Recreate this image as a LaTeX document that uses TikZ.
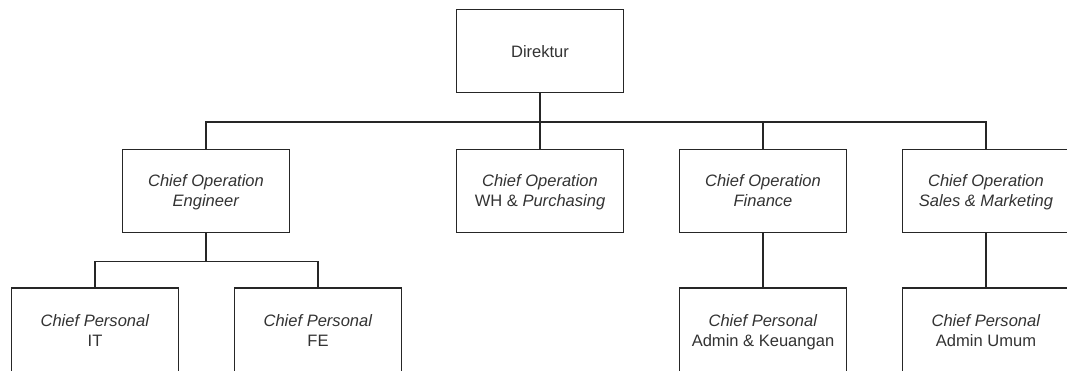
\documentclass[tikz,border=0pt]{standalone}
\usepackage{fontspec}
\setmainfont{Liberation Sans}

\begin{document}
\begin{tikzpicture}[x=0.75pt,y=0.75pt,
        jabatan/.style={draw=black!85, fill=white, line width=0.8pt, inner sep=0pt,
            minimum width=125.25pt, minimum height=62.25pt, align=center,
            text depth=1pt, text=black!80, font=\fontsize{12.4}{15}\selectfont},
        staf/.style={jabatan, minimum height=64.5pt},
        garis/.style={draw=black!85, line width=0.8pt}]
            \path[use as bounding box, clip] (0,0) rectangle (1067,-371);

            % Direktur:
            \node[jabatan, text depth=0pt] (dir) at (540,-51.25) {Direktur};

            % Chief Operation:
            \node[jabatan] (eng)   at (206,-191)   {\textit{Chief Operation}\\\textit{Engineer}};
            \node[jabatan] (wh)    at (540,-191)   {\textit{Chief Operation}\\WH \& \textit{Purchasing}};
            \node[jabatan] (fin)   at (763,-191)   {\textit{Chief Operation}\\\textit{Finance}};
            \node[jabatan] (sales) at (986,-191)   {\textit{Chief Operation}\\\textit{Sales \& Marketing}};

            % Chief Personal:
            \node[staf] (it)   at (95,-331)  {\textit{Chief Personal}\\IT};
            \node[staf] (fe)   at (318,-331) {\textit{Chief Personal}\\FE};
            \node[staf] (adm)  at (763,-331) {\textit{Chief Personal}\\Admin \& Keuangan};
            \node[staf] (umum) at (986,-331) {\textit{Chief Personal}\\Admin Umum};

            % garis
            \foreach \c in {eng,wh,fin,sales}
                \draw[garis] (dir.south) -- ++(0,-28.7) -| (\c.north);
            \foreach \c in {it,fe}
                \draw[garis] (eng.south) -- ++(0,-28.7) -| (\c.north);
            \draw[garis] (fin.south) -- (adm.north);
            \draw[garis] (sales.south) -- (umum.north);
        \end{tikzpicture}
\end{document}
